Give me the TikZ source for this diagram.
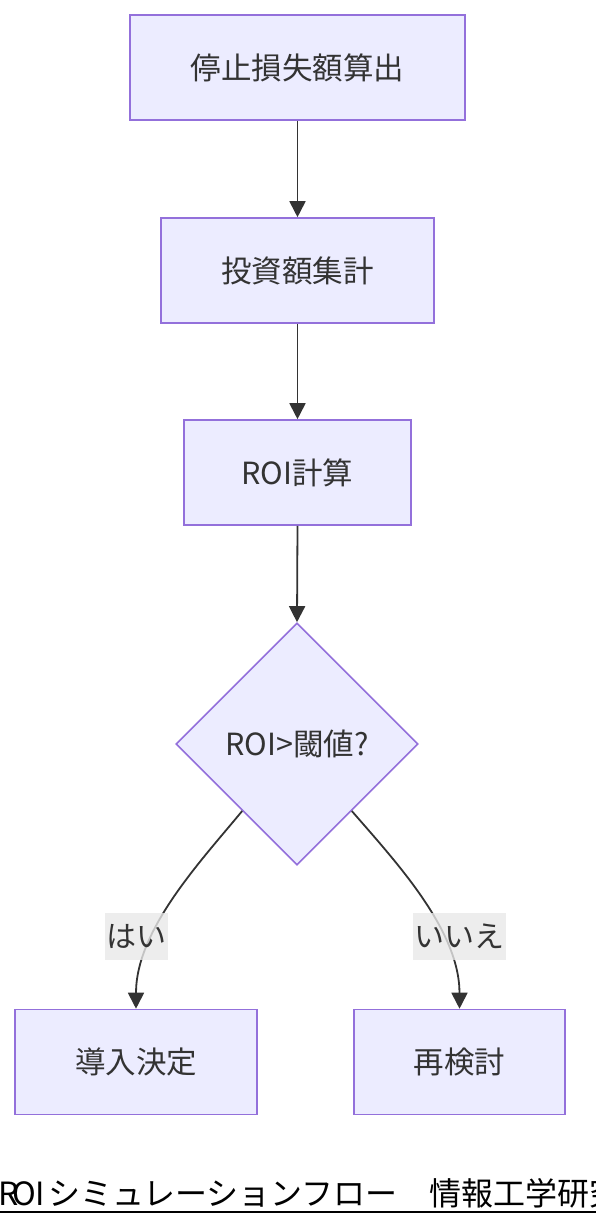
\documentclass[tikz,border=0pt]{standalone}
\usepackage{fontspec}
\setmainfont{Noto Sans CJK JP}
\usetikzlibrary{shapes.geometric,arrows.meta,calc}
\definecolor{nodefill}{HTML}{ECECFF}
\definecolor{nodeline}{HTML}{9370DB}
\definecolor{ink}{HTML}{333333}
\definecolor{lblbg}{HTML}{E8E8E8}
\begin{document}
\begin{tikzpicture}[x=1pt,y=-1pt,
  proc/.style={rectangle,draw=nodeline,fill=nodefill,line width=1.6pt,text=ink,
    font=\fontsize{30.5}{36}\selectfont,minimum height=105pt,inner sep=0pt},
  dec/.style={diamond,draw=nodeline,fill=nodefill,line width=1.6pt,text=ink,
    font=\fontsize{30.5}{36}\selectfont,minimum width=242pt,minimum height=242pt,inner sep=0pt},
  conn/.style={draw=ink,line width=1.8pt,-{Triangle[length=16pt,width=16pt]}},
  lbl/.style={fill=lblbg,fill opacity=0.8,text opacity=1,text=ink,
    font=\fontsize{30}{36}\selectfont,inner xsep=1.5pt,inner ysep=0pt,minimum height=47pt},
  foot/.style={font=\fontsize{32}{38}\selectfont,text=black,inner sep=0pt,anchor=base west}
]
\useasboundingbox (0,0) rectangle (596,1226);
\node[proc,minimum width=335pt] (a) at (297.5,67.5) {停止損失額算出};
\node[proc,minimum width=273pt] (b) at (297.5,270.5) {投資額集計};
\node[proc,minimum width=227pt] (c) at (297.5,472.5) {ROI計算};
\node[dec] (d) at (297,744) {ROI>閾値?};
\node[proc,minimum width=242pt] (e) at (136,1062) {導入決定};
\node[proc,minimum width=211pt] (f) at (459.5,1062) {再検討};
\draw[conn] (a.south) -- (b.north);
\draw[conn] (b.south) -- (c.north);
\draw[conn] (c.south) -- (d.north);
\coordinate (dl) at ($(d.south)!0.45!(d.west)$);
\coordinate (dr) at ($(d.south)!0.45!(d.east)$);
\draw[conn] (dl) .. controls (200,862) and (136,930) .. (e.north);
\draw[conn] (dr) .. controls (396,862) and (459.5,930) .. (f.north);
\node[lbl] (yes) at (136,936) {はい};
\node[lbl] (no) at (459.5,936) {いいえ};
\node[foot] (title) at (0,1205) {\makebox[16pt]{R}\makebox[16pt]{O}\makebox[16pt]{I}シミュレーションフロー　情報工学研究};
\draw[line width=2.5pt,black] (0,1212) -- (596,1212);
\end{tikzpicture}
\end{document}
